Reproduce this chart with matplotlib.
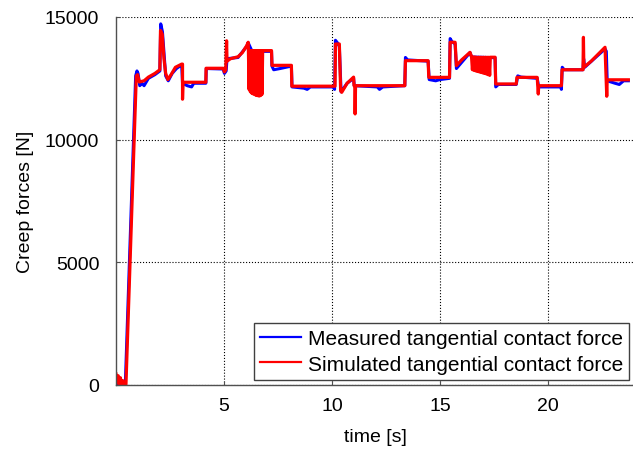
import matplotlib
matplotlib.use("Agg")
import matplotlib.pyplot as plt

plt.rcParams["font.family"] = ["Liberation Sans", "DejaVu Sans"]

# simulated tangential contact force [N] vs time [s]
sim_t = [0.00, 0.06, 0.10, 0.16, 0.20, 0.27, 0.31, 0.40, 0.46, 0.94,
         1.00, 1.08, 1.30, 1.50, 1.80, 2.03, 2.06, 2.14, 2.22, 2.30,
         2.40, 2.55, 2.75, 3.04, 3.08, 3.08, 3.10, 4.16, 4.17, 4.96,
         5.02, 5.08, 5.12, 5.14, 5.30, 5.65, 5.85, 6.05, 6.12,
         6.13, 6.16, 6.19, 6.22, 6.25, 6.28, 6.31, 6.34, 6.37, 6.40,
         6.43, 6.46, 6.49, 6.52, 6.55, 6.58, 6.61, 6.64, 6.67, 6.70,
         6.73, 6.76, 6.79,
         7.20, 7.22, 8.12, 8.14, 10.14, 10.16, 10.34, 10.40, 10.45, 10.70,
         11.00, 11.02, 11.06, 11.07, 11.09, 13.37, 13.40, 14.45, 14.48, 15.44,
         15.47, 15.70, 15.76, 16.00, 16.39,
         16.46, 16.50, 16.54, 16.58, 16.62, 16.66, 16.70, 16.74, 16.78, 16.82,
         16.86, 16.90, 16.94, 16.98, 17.02, 17.06, 17.10, 17.14, 17.18, 17.22,
         17.26, 17.30, 17.33,
         17.55, 17.58, 18.53, 18.56, 19.50, 19.55, 19.57, 20.62, 20.65, 21.62,
         21.64, 21.66, 22.00, 22.64, 22.72, 22.74, 23.72]
sim_f = [450, 80, 380, 40, 300, 0, 180, 0, 0, 12600,
         12650, 12350, 12400, 12550, 12700, 12850, 14450, 14300, 13300, 12700,
         12450, 12650, 12950, 13080, 13080, 11650, 12340, 12340, 12910, 12910,
         12760, 12850, 14030, 13200, 13300, 13380, 13550, 13830, 13970,
         13630, 12050, 13630, 11950, 13630, 11900, 13630, 11870, 13630, 11850,
         13630, 11820, 13630, 11800, 13630, 11790, 13630, 11780, 13630, 11800,
         13630, 11850, 13630,
         13630, 13030, 13030, 12180, 12180, 13900, 13900, 12000, 11930, 12300,
         12550, 12200, 12200, 11050, 12200, 12200, 13220, 13220, 12540, 12540,
         13970, 13970, 13020, 13250, 13560,
         13380, 12850, 13370, 12820, 13370, 12800, 13360, 12780, 13360, 12760,
         13360, 12740, 13360, 12720, 13360, 12700, 13360, 12680, 13360, 12650,
         13360, 12620, 13360,
         13360, 12270, 12270, 12540, 12540, 11860, 12200, 12200, 12850, 12850,
         14170, 12950, 13200, 13765, 11770, 12440, 12440]

# measured tangential contact force [N] vs time [s]
meas_t = [0.00, 0.43, 0.91, 0.97, 1.02, 1.10, 1.20, 1.30, 1.50, 1.80,
          2.03, 2.07, 2.15, 2.30, 2.42, 2.60, 2.80, 3.04, 3.08, 3.30,
          3.50, 3.60, 4.16, 4.18, 4.96, 5.02, 5.10, 5.14, 5.65, 6.05,
          6.12, 6.30, 7.20, 7.22, 7.30, 7.60, 8.12, 8.15, 8.70, 8.85,
          9.00, 10.05, 10.12, 10.16, 10.25, 10.34, 10.42, 10.70, 11.00, 11.03,
          12.10, 12.20, 12.35, 13.37, 13.40, 13.50, 14.45, 14.50, 14.80, 15.00,
          15.44, 15.47, 15.55, 15.70, 15.76, 16.39, 16.46, 17.55, 17.58, 17.70,
          18.53, 18.60, 18.75, 19.50, 19.57, 20.60, 20.62, 20.66, 20.75, 21.62,
          21.65, 21.70, 22.64, 22.70, 22.74, 23.10, 23.30, 23.50, 23.72]
meas_f = [0, 0, 12600, 12800, 12700, 12200, 12300, 12200, 12500, 12650,
          12800, 14720, 14400, 12600, 12400, 12700, 12900, 13050, 12300, 12200,
          12150, 12300, 12300, 12900, 12880, 12700, 12800, 13300, 13350, 13800,
          13950, 13600, 13600, 13000, 12850, 12900, 13000, 12150, 12100, 12050,
          12150, 12150, 12050, 14050, 13950, 13800, 11950, 12300, 12500, 12200,
          12150, 12050, 12150, 12200, 13350, 13250, 13200, 12450, 12400, 12450,
          12500, 14120, 14000, 13900, 12900, 13550, 13370, 13340, 12150, 12250,
          12250, 12600, 12550, 12500, 12150, 12150, 12050, 12950, 12850, 12850,
          13300, 12950, 13700, 13600, 12400, 12300, 12250, 12400, 12400]

x_ticks = [5, 10, 15, 20]
y_ticks = [0, 5000, 10000, 15000]

fig = plt.figure(figsize=(6.33, 4.52), dpi=100)
ax = fig.add_axes([116 / 633, 66 / 452, 518.4 / 633, 368 / 452])

ax.plot(meas_t, meas_f, color="#0000ff", lw=2.2, label="Measured tangential contact force")
ax.plot(sim_t, sim_f, color="#ff0000", lw=2.3, label="Simulated tangential contact force")

ax.set_xlim(0, 24)
ax.set_ylim(0, 15000)
ax.set_xticks(x_ticks)
ax.set_yticks(y_ticks)
ax.tick_params(axis="both", direction="in", length=3, width=0.8, color="#505050",
               labelsize=14)
ax.tick_params(axis="x", pad=9)
ax.tick_params(axis="y", pad=12)
ax.grid(True, color="black", ls=":", lw=0.8)
ax.set_axisbelow(True)

for side in ["top", "right"]:
    ax.spines[side].set_visible(False)
for side in ["left", "bottom"]:
    ax.spines[side].set_color("#505050")
    ax.spines[side].set_linewidth(1.0)

ax.set_xlabel("time [s]", fontsize=14, labelpad=10)
ax.set_ylabel("Creep forces [N]", fontsize=14, labelpad=8)

leg = ax.legend(loc="lower right", bbox_to_anchor=(0.99, 0.014), borderaxespad=0,
                fontsize=15, fancybox=False, framealpha=1, edgecolor="#404040",
                handlelength=2.0, handletextpad=0.3, borderpad=0.3, labelspacing=0.3)
leg.get_frame().set_linewidth(1.0)
for handle in leg.get_lines():
    handle.set_linewidth(1.6)

fig.savefig("out.png", dpi=100)
